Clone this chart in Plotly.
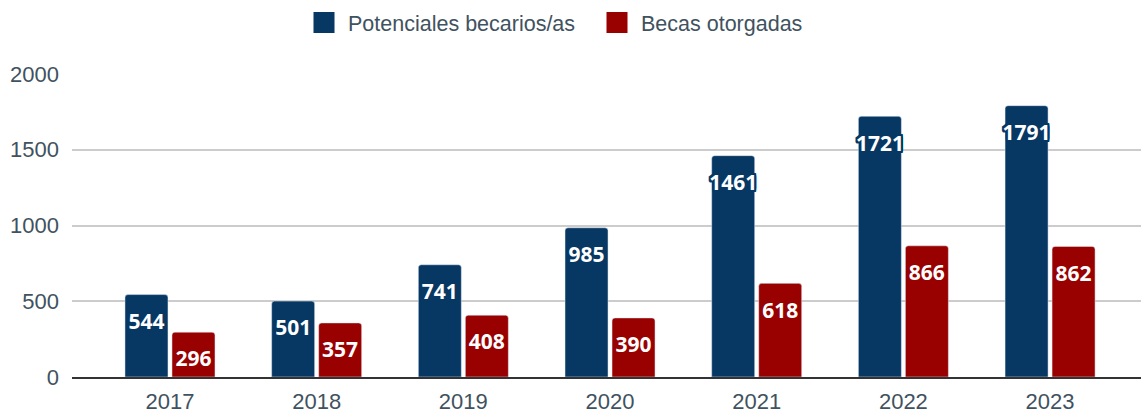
import plotly.graph_objects as go

years = ["2017", "2018", "2019", "2020", "2021", "2022", "2023"]
potenciales = [544, 501, 741, 985, 1461, 1721, 1791]
becas = [296, 357, 408, 390, 618, 866, 862]
y_ticks = [0, 500, 1000, 1500, 2000]

BLUE = "#073763"
RED = "#990000"
TXT = "#3f5260"

pos = list(range(len(years)))  # category slots on a numeric axis

fig = go.Figure()
fig.add_trace(go.Bar(x=pos, y=potenciales, name="Potenciales becarios/as",
                     marker_color=BLUE, showlegend=False, hoverinfo="skip"))
fig.add_trace(go.Bar(x=pos, y=becas, name="Becas otorgadas",
                     marker_color=RED, showlegend=False, hoverinfo="skip"))

# legend entries with bigger squares than the bar default
for nm, col in [("Potenciales becarios/as", BLUE), ("Becas otorgadas", RED)]:
    fig.add_trace(go.Scatter(x=[None], y=[None], mode="markers", name=nm,
                             marker=dict(symbol="square", size=16, color=col,
                                         line=dict(color=col, width=5))))

# value labels just under each bar top, white with a dark outline
# (an invisible marker pushes the text down from the bar top)
def outline(c):
    return ", ".join(f"{dx}px {dy}px 0 {c}"
                     for dx in (-2, -1, 0, 1, 2) for dy in (-2, -1, 0, 1, 2))

half = 0.16  # half the slot of one bar inside a group
for vals, col, dx in [(potenciales, BLUE, -half), (becas, RED, half)]:
    fig.add_trace(go.Scatter(
        x=[p + dx for p in pos], y=vals, mode="markers+text",
        text=[str(v) for v in vals], textposition="bottom center",
        marker=dict(size=28, color="rgba(0,0,0,0)"),
        textfont=dict(family="Open Sans", size=21, color="white",
                      weight="bold", shadow=outline(col)),
        showlegend=False, hoverinfo="skip", cliponaxis=False))

fig.update_layout(
    width=1141, height=416,
    barmode="group", bargap=0.359, bargroupgap=0.085, barcornerradius=3,
    plot_bgcolor="white", paper_bgcolor="white",
    margin=dict(l=72, r=0, t=74, b=39),
    font=dict(family="Liberation Sans", size=22, color=TXT),
    legend=dict(orientation="h", xref="container", x=300 / 1141, xanchor="left",
                yref="container", y=0.995, yanchor="top", itemwidth=38,
                entrywidth=240, entrywidthmode="pixels",
                font=dict(family="Liberation Sans", size=21.5, color=TXT)),
    xaxis=dict(tickvals=pos, ticktext=years, range=[-0.668, 6.62],
               showgrid=False, showline=True, linecolor="#333333", linewidth=2,
               ticks="", ticklabelstandoff=4, automargin=False),
    yaxis=dict(tickvals=y_ticks, range=[0, 2000], showgrid=True,
               gridcolor="#cccccc", gridwidth=1.5, zeroline=False,
               ticks="", ticklabelstandoff=12, automargin=False),
    hovermode=False,
)

fig.write_html("out.html", config={"displayModeBar": False},
               post_script="document.body.style.margin='0';")
